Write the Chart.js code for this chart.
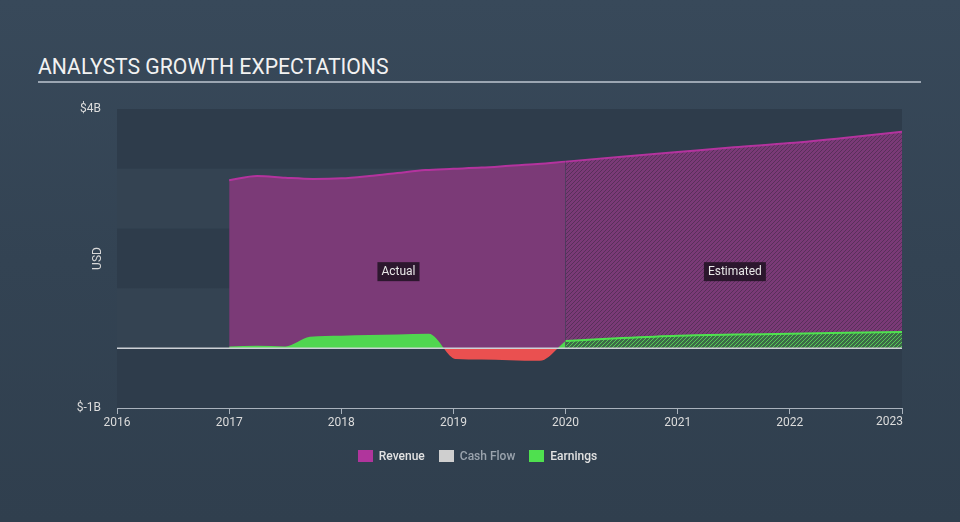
<!DOCTYPE html>
<html>
<head>
<meta charset="utf-8">
<script src="https://cdn.jsdelivr.net/npm/chart.js@4.4.0/dist/chart.umd.min.js"></script>
<style>
  html, body { margin: 0; padding: 0; }
  body {
    width: 960px; height: 522px; overflow: hidden; position: relative;
    background: linear-gradient(180deg, #38495a 0%, #334353 50%, #303f4e 100%);
    font-family: Roboto, "Liberation Sans", sans-serif;
  }
  #title {
    position: absolute; left: 38px; top: 55px;
    font-size: 21.2px; line-height: 24px; color: #f2f2f2; letter-spacing: 0;
  }
  #rule { position: absolute; left: 38px; top: 81px; width: 883px; height: 2px; background: #9ba6b2; }
  #wrap { position: absolute; left: 0; top: 0; width: 960px; height: 522px; }
  #legend {
    position: absolute; top: 449px; left: 0; width: 955px;
    display: flex; justify-content: center; gap: 14px;
    font-size: 12px; font-weight: 500; color: #e2e2e2;
  }
  #legend span.item { display: flex; align-items: center; }
  #legend i { display: inline-block; width: 15px; height: 12px; margin-right: 6px; }
</style>
</head>
<body>
<div id="title">ANALYSTS GROWTH EXPECTATIONS</div>
<div id="rule"></div>
<div id="wrap"><canvas id="myChart" width="960" height="522"></canvas></div>
<div id="legend"></div>
<script>
// values in billions USD, x = fractional year
const revenueActualDates = [2017, 2017.25, 2017.5, 2017.75, 2018, 2018.25, 2018.5, 2018.75, 2019, 2019.25, 2019.5, 2019.75, 2020];
const revenueActual = [2.81, 2.88, 2.85, 2.83, 2.84, 2.88, 2.93, 2.98, 3.0, 3.02, 3.05, 3.08, 3.12];
const revenueEstDates = [2020, 2020.5, 2021, 2021.5, 2022, 2022.5, 2023];
const revenueEst = [3.12, 3.2, 3.28, 3.36, 3.43, 3.52, 3.62];

const earningsActualDates = [2017, 2017.25, 2017.5, 2017.72, 2018, 2018.25, 2018.5, 2018.78, 2019.02, 2019.25, 2019.5, 2019.77, 2020];
const earningsActual = [0.03, 0.04, 0.03, 0.19, 0.21, 0.22, 0.23, 0.24, -0.18, -0.19, -0.2, -0.21, 0.12];
const earningsEstDates = [2020, 2020.5, 2021, 2021.5, 2022, 2022.5, 2023];
const earningsEst = [0.12, 0.17, 0.21, 0.23, 0.24, 0.26, 0.27];

const yearTicks = [2016, 2017, 2018, 2019, 2020, 2021, 2022, 2023];
const yTickValues = [-1, 4];
const yTickLabels = ['$-1B', '$4B'];
const legendNames = ['Revenue', 'Cash Flow', 'Earnings'];
const legendColors = ['#b0359c', '#cfcfcf', '#4fe04f'];
const legendTextColors = ['#e2e2e2', '#9aa3ad', '#e2e2e2'];

function pts(xs, ys) { return xs.map((x, i) => ({ x: x, y: ys[i] })); }

function hatch(bg, fg, size) {
  let c = document.createElement('canvas');
  c.width = c.height = size;
  let g = c.getContext('2d');
  g.fillStyle = bg;
  g.fillRect(0, 0, size, size);
  g.strokeStyle = fg;
  g.lineWidth = 1;
  g.beginPath();
  g.moveTo(0, size); g.lineTo(size, 0);
  g.moveTo(-1, 1); g.lineTo(1, -1);
  g.moveTo(size - 1, size + 1); g.lineTo(size + 1, size - 1);
  g.stroke();
  return g.createPattern(c, 'repeat');
}

// legend
let lg = document.querySelector('#legend');
legendNames.forEach((n, i) => {
  lg.innerHTML += `<span class="item"><i style="background:${legendColors[i]}"></i><span style="color:${legendTextColors[i]}">${n}</span></span>`;
});

const bandsPlugin = {
  id: 'bands',
  beforeDraw(chart) {
    const { ctx, chartArea: a, scales: { y } } = chart;
    ctx.save();
    for (let v = 4; v > -1; v--) {
      const dark = (4 - v) % 2 === 0;
      ctx.fillStyle = dark ? '#2e3c4b' : '#344352';
      const t = y.getPixelForValue(v), b = y.getPixelForValue(v - 1);
      ctx.fillRect(a.left, t, a.right - a.left, b - t);
    }
    ctx.restore();
  }
};

const overlayPlugin = {
  id: 'overlay',
  afterDatasetsDraw(chart) {
    const { ctx, chartArea: a, scales: { x, y } } = chart;
    ctx.save();
    // zero line
    ctx.strokeStyle = '#cdd1d6';
    ctx.lineWidth = 1.5;
    ctx.beginPath();
    ctx.moveTo(a.left, y.getPixelForValue(0));
    ctx.lineTo(a.right, y.getPixelForValue(0));
    ctx.stroke();
    // period labels
    ctx.font = '12px Roboto';
    ctx.textAlign = 'center';
    ctx.textBaseline = 'middle';
    [['Actual', 2018.51], ['Estimated', 2021.51]].forEach(([txt, xv]) => {
      const px = x.getPixelForValue(xv), py = y.getPixelForValue(1.28);
      const w = ctx.measureText(txt).width + 8;
      ctx.fillStyle = 'rgba(36,20,38,0.9)';
      ctx.fillRect(px - w / 2, py - 9.5, w, 19);
      ctx.fillStyle = '#e8e8e8';
      ctx.fillText(txt, px, py + 0.5);
    });
    ctx.restore();
  },
  afterDraw(chart) {
    const { ctx, chartArea: a, scales: { x } } = chart;
    ctx.save();
    // USD title
    ctx.translate(a.left - 19, (a.top + a.bottom) / 2);
    ctx.rotate(-Math.PI / 2);
    ctx.font = '12px Roboto';
    ctx.fillStyle = '#d8d8d8';
    ctx.textAlign = 'center';
    ctx.textBaseline = 'middle';
    ctx.fillText('USD', 0, 0);
    ctx.restore();
    // last year label, right aligned to its tick
    ctx.save();
    ctx.font = '12px Roboto';
    ctx.fillStyle = '#dcdcdc';
    ctx.textAlign = 'right';
    ctx.textBaseline = 'top';
    const last = yearTicks[yearTicks.length - 1];
    ctx.fillText(String(last), x.getPixelForValue(last) + 1, a.bottom + 8);
    ctx.restore();
  }
};

const ctx = document.querySelector('#myChart').getContext('2d');
const revHatch = hatch('#7a3a77', '#58305a', 4);
const earnHatch = hatch('#3c6a48', '#55c955', 4);

new Chart(ctx, {
  type: 'line',
  data: {
    datasets: [
      {
        label: 'Earnings',
        data: pts(earningsActualDates, earningsActual),
        borderWidth: 0,
        pointRadius: 0,
        cubicInterpolationMode: 'monotone',
        fill: { target: 'origin', above: '#50d650', below: '#ea5050' },
        order: 0
      },
      {
        label: 'Earnings estimate',
        data: pts(earningsEstDates, earningsEst),
        borderColor: '#4fe24f',
        borderWidth: 2,
        pointRadius: 0,
        cubicInterpolationMode: 'monotone',
        backgroundColor: earnHatch,
        fill: 'origin',
        order: 0
      },
      {
        label: 'Revenue',
        data: pts(revenueActualDates, revenueActual),
        borderColor: '#b4339e',
        borderWidth: 2,
        pointRadius: 0,
        cubicInterpolationMode: 'monotone',
        backgroundColor: '#7b3a77',
        fill: 'origin',
        order: 1
      },
      {
        label: 'Revenue estimate',
        data: pts(revenueEstDates, revenueEst),
        borderColor: '#b4339e',
        borderWidth: 2,
        pointRadius: 0,
        cubicInterpolationMode: 'monotone',
        backgroundColor: revHatch,
        fill: 'origin',
        order: 1
      }
    ]
  },
  options: {
    responsive: false,
    animation: false,
    events: [],
    layout: { padding: { left: 0, top: 109, right: 58, bottom: 84 } },
    plugins: { legend: { display: false }, tooltip: { enabled: false } },
    scales: {
      x: {
        type: 'linear',
        min: 2016,
        max: 2023,
        afterBuildTicks: s => { s.ticks = yearTicks.map(v => ({ value: v })); },
        afterFit: s => { s.height = 30; },
        grid: { drawOnChartArea: false, drawTicks: true, tickLength: 6, color: '#a9b2bc' },
        border: { color: '#a9b2bc', width: 1 },
        ticks: {
          padding: 2,
          color: c => c.index === yearTicks.length - 1 ? 'rgba(0,0,0,0)' : '#dcdcdc',
          font: { family: 'Roboto', size: 12 },
          maxRotation: 0,
          callback: v => String(v)
        }
      },
      y: {
        min: -1,
        max: 4,
        afterBuildTicks: s => { s.ticks = yTickValues.map(v => ({ value: v })); },
        afterFit: s => { s.width = 117; },
        grid: { display: false, drawTicks: false },
        border: { display: false },
        ticks: {
          padding: 16,
          color: '#dcdcdc',
          font: { family: 'Roboto', size: 12 },
          callback: v => yTickLabels[yTickValues.indexOf(v)]
        }
      }
    }
  },
  plugins: [bandsPlugin, overlayPlugin]
});
</script>
</body>
</html>
